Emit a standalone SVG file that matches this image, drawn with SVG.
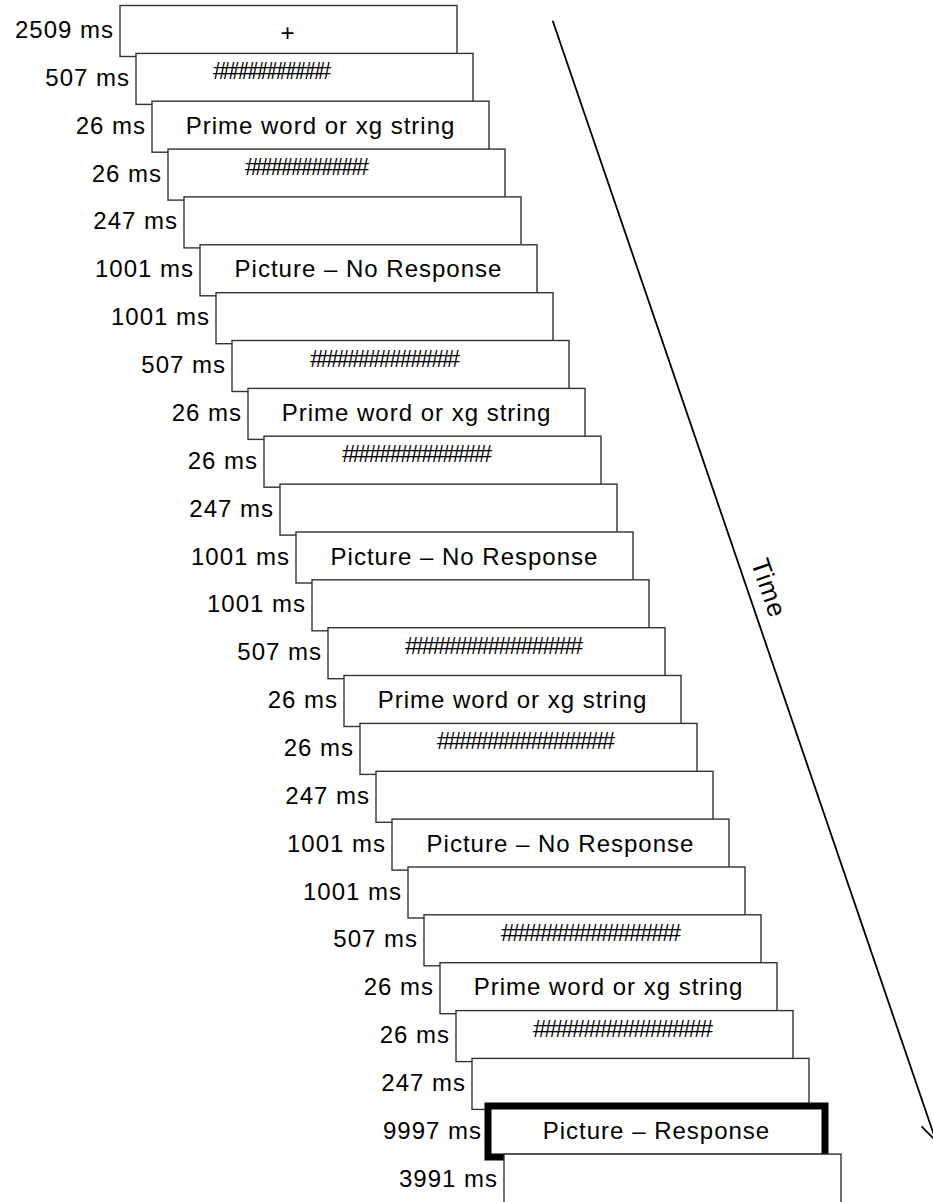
<svg xmlns="http://www.w3.org/2000/svg" width="933" height="1202" viewBox="0 0 933 1202">
<style>
  rect.box { fill: #ffffff; stroke: #333333; stroke-width: 1.4; }
  rect.resp { fill: #ffffff; stroke: #000000; stroke-width: 7; }
  text { font-family: "Liberation Sans", Arial, sans-serif; font-size: 24px; fill: #000000; letter-spacing: 1px; }
  text.lbl { text-anchor: end; }
  text.mid { text-anchor: middle; }
  text.hash { text-anchor: start; letter-spacing: 0px; }
  .arrow { stroke: #000000; stroke-width: 1.8; fill: none; }
</style>
<defs>
  <marker id="open" markerUnits="userSpaceOnUse" markerWidth="24" markerHeight="22" viewBox="0 0 24 22" refX="20" refY="11" orient="auto">
    <path d="M1.5,2 L20,11 L1.5,20" fill="none" stroke="#000000" stroke-width="1.8"/>
  </marker>
</defs>

<g id="n1"><rect class="box" x="120" y="5.5" width="337" height="51"/><text class="lbl" x="114" y="38">2509 ms</text><text class="mid" x="288" y="41">+</text></g>
<g id="n2"><rect class="box" x="136" y="53.4" width="337" height="51"/><text class="lbl" x="130" y="85.9">507 ms</text><text class="hash" x="213" y="79.4" textLength="118" lengthAdjust="spacing">############</text></g>
<g id="n3"><rect class="box" x="152" y="101.2" width="337" height="51"/><text class="lbl" x="146" y="133.7">26 ms</text><text class="mid" x="320.5" y="133.7">Prime word or xg string</text></g>
<g id="n4"><rect class="box" x="168" y="149.1" width="337" height="51"/><text class="lbl" x="162" y="181.6">26 ms</text><text class="hash" x="245" y="175.1" textLength="124" lengthAdjust="spacing">############</text></g>
<g id="n5"><rect class="box" x="184" y="196.9" width="337" height="51"/><text class="lbl" x="178" y="229.4">247 ms</text></g>
<g id="n6"><rect class="box" x="200" y="244.8" width="337" height="51"/><text class="lbl" x="194" y="277.3">1001 ms</text><text class="mid" x="368.5" y="277.3">Picture – No Response</text></g>
<g id="n7"><rect class="box" x="216" y="292.7" width="337" height="51"/><text class="lbl" x="210" y="325.2">1001 ms</text></g>
<g id="n8"><rect class="box" x="232" y="340.5" width="337" height="51"/><text class="lbl" x="226" y="373">507 ms</text><text class="hash" x="310" y="366.5" textLength="150" lengthAdjust="spacing">##############</text></g>
<g id="n9"><rect class="box" x="248" y="388.4" width="337" height="51"/><text class="lbl" x="242" y="420.9">26 ms</text><text class="mid" x="416.5" y="420.9">Prime word or xg string</text></g>
<g id="n10"><rect class="box" x="264" y="436.2" width="337" height="51"/><text class="lbl" x="258" y="468.7">26 ms</text><text class="hash" x="342" y="462.2" textLength="150" lengthAdjust="spacing">##############</text></g>
<g id="n11"><rect class="box" x="280" y="484.1" width="337" height="51"/><text class="lbl" x="274" y="516.6">247 ms</text></g>
<g id="n12"><rect class="box" x="296" y="532" width="337" height="51"/><text class="lbl" x="290" y="564.5">1001 ms</text><text class="mid" x="464.5" y="564.5">Picture – No Response</text></g>
<g id="n13"><rect class="box" x="312" y="579.8" width="337" height="51"/><text class="lbl" x="306" y="612.3">1001 ms</text></g>
<g id="n14"><rect class="box" x="328" y="627.7" width="337" height="51"/><text class="lbl" x="322" y="660.2">507 ms</text><text class="hash" x="405" y="653.7" textLength="178" lengthAdjust="spacing">################</text></g>
<g id="n15"><rect class="box" x="344" y="675.5" width="337" height="51"/><text class="lbl" x="338" y="708">26 ms</text><text class="mid" x="512.5" y="708">Prime word or xg string</text></g>
<g id="n16"><rect class="box" x="360" y="723.4" width="337" height="51"/><text class="lbl" x="354" y="755.9">26 ms</text><text class="hash" x="437" y="749.4" textLength="178" lengthAdjust="spacing">################</text></g>
<g id="n17"><rect class="box" x="376" y="771.3" width="337" height="51"/><text class="lbl" x="370" y="803.8">247 ms</text></g>
<g id="n18"><rect class="box" x="392" y="819.1" width="337" height="51"/><text class="lbl" x="386" y="851.6">1001 ms</text><text class="mid" x="560.5" y="851.6">Picture – No Response</text></g>
<g id="n19"><rect class="box" x="408" y="867" width="337" height="51"/><text class="lbl" x="402" y="899.5">1001 ms</text></g>
<g id="n20"><rect class="box" x="424" y="914.8" width="337" height="51"/><text class="lbl" x="418" y="947.3">507 ms</text><text class="hash" x="501" y="940.8" textLength="180" lengthAdjust="spacing">################</text></g>
<g id="n21"><rect class="box" x="440" y="962.7" width="337" height="51"/><text class="lbl" x="434" y="995.2">26 ms</text><text class="mid" x="608.5" y="995.2">Prime word or xg string</text></g>
<g id="n22"><rect class="box" x="456" y="1010.6" width="337" height="51"/><text class="lbl" x="450" y="1043.1">26 ms</text><text class="hash" x="533" y="1036.6" textLength="180" lengthAdjust="spacing">################</text></g>
<g id="n23"><rect class="box" x="472" y="1058.4" width="337" height="51"/><text class="lbl" x="466" y="1090.9">247 ms</text></g>
<g id="n24"><rect class="resp" x="488" y="1106" width="337" height="51"/><text class="lbl" x="482" y="1138.8">9997 ms</text><text class="mid" x="656.5" y="1138.8">Picture – Response</text></g>
<g id="n25"><rect class="box" x="504" y="1154.1" width="337" height="51"/><text class="lbl" x="498" y="1186.6">3991 ms</text></g>

<g id="connectors">
  <line class="arrow" x1="552.7" y1="20.7" x2="936" y2="1141" marker-end="url(#open)"/>
  <text transform="translate(769,588) rotate(71.1)" x="0" y="9" text-anchor="middle" style="font-size:26px">Time</text>
</g>
</svg>
